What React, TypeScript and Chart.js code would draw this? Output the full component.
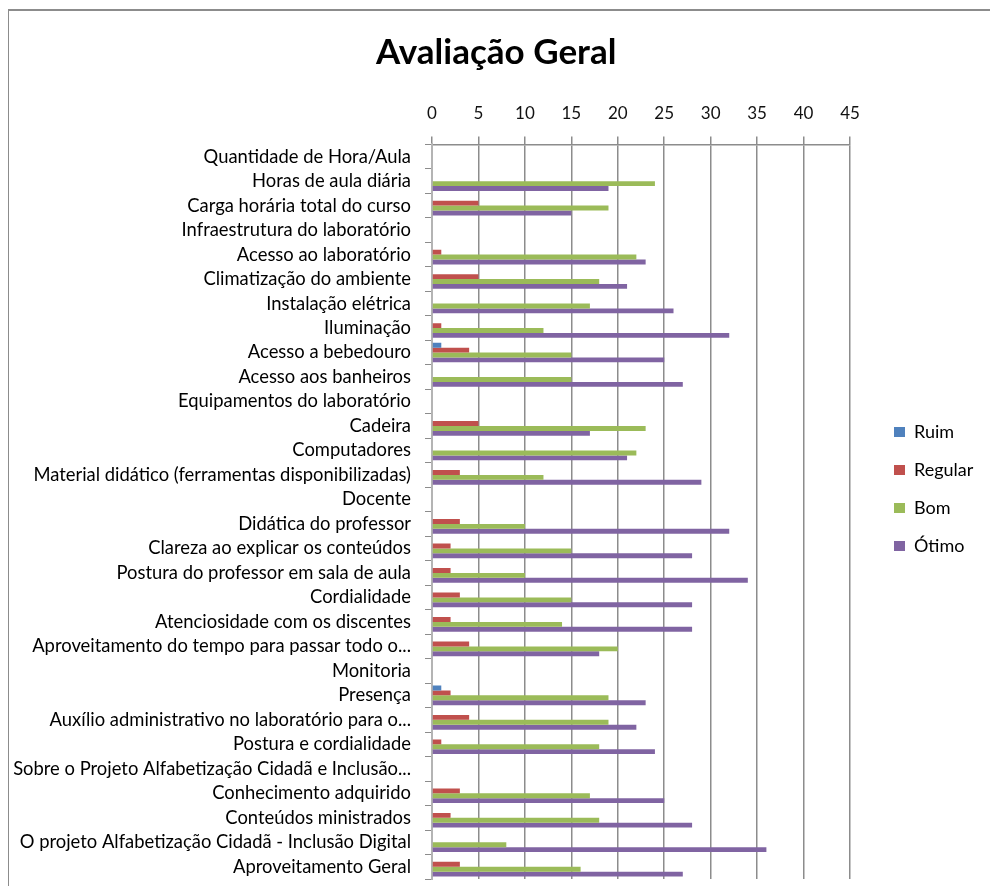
import React, { useEffect, useRef } from 'react';
import { Chart, registerables } from 'chart.js';

Chart.register(...registerables);

const categories = [
  'Quantidade de Hora/Aula',
  'Horas de aula diária',
  'Carga horária total do curso',
  'Infraestrutura do laboratório',
  'Acesso ao laboratório',
  'Climatização do ambiente',
  'Instalação elétrica',
  'Iluminação',
  'Acesso a bebedouro',
  'Acesso aos banheiros',
  'Equipamentos do laboratório',
  'Cadeira',
  'Computadores',
  'Material didático (ferramentas disponibilizadas)',
  'Docente',
  'Didática do professor',
  'Clareza ao explicar os conteúdos',
  'Postura do professor em sala de aula',
  'Cordialidade',
  'Atenciosidade com os discentes',
  'Aproveitamento do tempo para passar todo o...',
  'Monitoria',
  'Presença',
  'Auxílio administrativo no laboratório para o...',
  'Postura e cordialidade',
  'Sobre o Projeto Alfabetização Cidadã e Inclusão...',
  'Conhecimento adquirido',
  'Conteúdos ministrados',
  'O projeto Alfabetização Cidadã - Inclusão Digital',
  'Aproveitamento Geral',
];

const ruim = [0, 0, 0, 0, 0, 0, 0, 0, 1, 0, 0, 0, 0, 0, 0, 0, 0, 0, 0, 0, 0, 0, 1, 0, 0, 0, 0, 0, 0, 0];
const regular = [0, 0, 5, 0, 1, 5, 0, 1, 4, 0, 0, 5, 0, 3, 0, 3, 2, 2, 3, 2, 4, 0, 2, 4, 1, 0, 3, 2, 0, 3];
const bom = [0, 24, 19, 0, 22, 18, 17, 12, 15, 15, 0, 23, 22, 12, 0, 10, 15, 10, 15, 14, 20, 0, 19, 19, 18, 0, 17, 18, 8, 16];
const otimo = [0, 19, 15, 0, 23, 21, 26, 32, 25, 27, 0, 17, 21, 29, 0, 32, 28, 34, 28, 28, 18, 0, 23, 22, 24, 0, 25, 28, 36, 27];

const seriesNames = ['Ruim', 'Regular', 'Bom', 'Ótimo'];
const seriesColors = ['#4F81BD', '#C0504D', '#9BBB59', '#8064A2'];
const seriesValues = [ruim, regular, bom, otimo];

const axisMin = 0;
const axisMax = 45;
const axisStep = 5;

const FONT = 'Lato';

export default function App() {
  const ref = useRef<HTMLCanvasElement>(null);

  useEffect(() => {
    const canvas = ref.current!;
    const legendFont = 18;
    const mctx = canvas.getContext('2d')!;
    mctx.font = `${legendFont}px ${FONT}`;
    const maxText = Math.max(...seriesNames.map((n) => mctx.measureText(n).width));
    const legendPad = 20;
    const boxW = 11;
    const legendWidth = legendPad + boxW + legendFont / 2 + maxText + 10;
    const spacer = 24;
    const padRight = Math.max(0, 140 - spacer - legendWidth);

    const chart = new Chart(canvas, {
      type: 'bar',
      data: {
        labels: categories,
        datasets: seriesNames.map((name, i) => ({
          label: name,
          data: seriesValues[i],
          backgroundColor: seriesColors[i],
          borderColor: seriesColors[i],
          borderWidth: 0,
          categoryPercentage: 0.8,
          barPercentage: 1.0,
          xAxisID: 'x',
          yAxisID: 'y',
        })),
      },
      options: {
        indexAxis: 'y',
        responsive: false,
        animation: false,
        devicePixelRatio: 1,
        layout: { padding: { top: 0, left: 0, right: padRight, bottom: 7 } },
        plugins: {
          title: {
            display: true,
            text: 'Avaliação Geral',
            color: '#000',
            font: { family: FONT, size: 35, weight: 'bold' },
            padding: { top: 21, bottom: 16 },
          },
          legend: {
            display: true,
            position: 'right',
            align: 'center',
            title: { display: true, text: '', font: { size: 10 }, padding: { top: 76, bottom: 0 } },
            labels: {
              color: '#000',
              font: { family: FONT, size: legendFont },
              boxWidth: boxW,
              boxHeight: 10,
              padding: legendPad,
            },
          },
          tooltip: { enabled: false },
        },
        scales: {
          x: {
            type: 'linear',
            position: 'top',
            min: axisMin,
            max: axisMax,
            ticks: {
              stepSize: axisStep,
              color: '#111',
              font: { family: FONT, size: 17 },
              padding: 13,
            },
            grid: {
              color: '#8c8c8c',
              lineWidth: 1.5,
              tickLength: 8,
              drawTicks: true,
            },
            border: { display: true, color: '#8c8c8c', width: 1.5 },
          },
          y: {
            type: 'category',
            position: 'left',
            offset: true,
            ticks: {
              autoSkip: false,
              color: '#000',
              font: { family: FONT, size: 18.4 },
              padding: 14,
            },
            grid: {
              offset: true,
              drawOnChartArea: false,
              drawTicks: true,
              tickLength: 7,
              color: '#8c8c8c',
              lineWidth: 1,
            },
            border: { display: true, color: '#b4b4b4', width: 2 },
            afterFit: (s: any) => {
              s.width = 423;
              s.paddingTop = 0;
              s.paddingBottom = 0;
            },
          },
          yPad: {
            type: 'linear',
            position: 'right',
            display: true,
            grid: { display: false, drawTicks: false },
            ticks: { display: false },
            border: { display: false },
            afterFit: (s: any) => {
              s.width = spacer;
              s.paddingTop = 0;
              s.paddingBottom = 0;
            },
          },
        },
      } as any,
    });
    return () => chart.destroy();
  }, []);

  return (
    <div
      style={{
        marginTop: 1,
        marginLeft: -1,
        width: 983,
        height: 877,
        boxSizing: 'border-box',
        borderTop: '2px solid #8c8c8c',
        borderLeft: '2px solid #8c8c8c',
      }}
    >
      <canvas ref={ref} width={981} height={875} style={{ display: 'block', width: 981, height: 875 }} />
    </div>
  );
}
